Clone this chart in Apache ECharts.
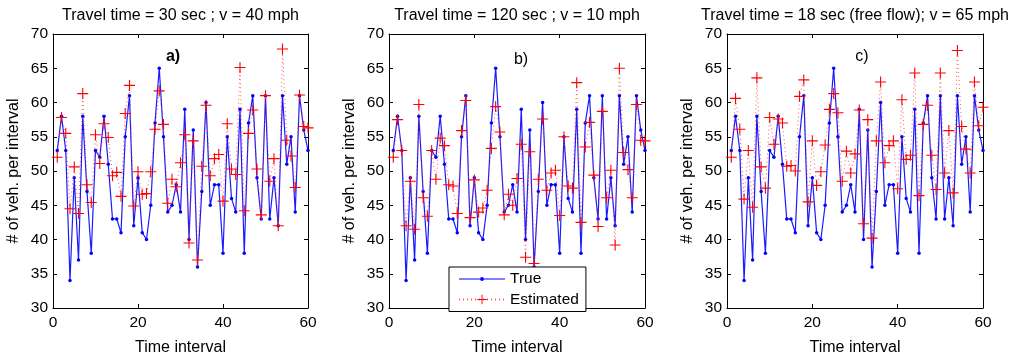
<!DOCTYPE html>
<html>
<head>
<meta charset="utf-8">
<script src="https://cdn.jsdelivr.net/npm/echarts@6/dist/echarts.min.js"></script>
<style>html,body{margin:0;padding:0;background:#fff}#c{width:1013px;height:361px}</style>
</head>
<body>
<div id="c"></div>
<script>
// ---- data ----
const panelTitles = ['Travel time = 30 sec ; v = 40 mph', 'Travel time = 120 sec ; v = 10 mph', 'Travel time = 18 sec (free flow); v = 65 mph'];
const panelTags = ['a)', 'b)', 'c)'];
const xTicks = [0, 20, 40, 60];
const yTicks = [30, 35, 40, 45, 50, 55, 60, 65, 70];
const intervals = Array.from({length: 60}, (_, i) => i + 1);
const trueCounts = [53,58,53,34,49,37,58,47,38,53,52,58,51,43,43,41,55,61,42,49,41,40,45,57,65,55,44,45,48,44,
                    59,40,56,36,47,60,45,48,48,38,55,46,44,59,38,57,61,49,43,61,43,49,42,61,51,55,44,61,56,53];
const estA = [52.0,57.8,55.5,44.5,50.6,43.8,61.3,48.0,45.4,55.3,51.1,56.9,54.9,49.3,49.8,46.3,58.4,62.5,44.9,49.9,
              46.6,46.7,49.9,56.1,61.7,56.8,45.3,48.8,47.7,51.2,55.3,39.5,54.4,37.0,50.7,59.6,49.3,51.8,52.4,45.6,
              56.9,50.3,49.5,65.1,44.2,55.5,58.9,50.3,43.6,61.0,48.5,51.8,42.0,67.8,54.5,52.2,47.6,61.1,56.5,56.3];
const estB = [52.0,57.5,53.0,42.0,48.5,41.5,59.7,46.1,43.4,53.0,48.8,54.8,53.7,48.0,47.8,43.8,55.9,60.3,43.2,48.7,
              44.0,44.6,47.2,53.3,59.4,55.7,43.6,46.6,45.0,48.9,53.9,37.4,52.8,36.5,48.8,57.6,47.2,49.7,50.1,43.5,
              55.0,47.8,47.5,62.9,42.5,53.5,57.1,49.4,41.9,58.7,46.1,50.1,39.2,65.0,52.7,50.2,46.1,59.7,54.5,54.4];
const estC = [52.0,60.6,56.1,45.9,53.0,44.7,63.6,50.6,47.5,57.8,53.9,57.6,57.0,50.7,50.8,50.0,60.9,63.3,45.5,54.4,
              47.9,49.9,53.8,59.0,61.3,58.5,48.5,52.9,49.7,52.5,58.9,42.3,57.5,40.2,54.4,63.0,51.2,53.7,54.4,47.4,
              60.4,51.7,52.3,64.3,46.4,56.8,59.6,52.3,47.3,64.3,49.7,55.9,46.8,67.6,56.5,53.2,49.7,63.0,56.6,59.3];
const estimates = [estA, estB, estC];

// ---- layout ----
const FONT = 'Liberation Sans, Arial, sans-serif';
const grids = [
  {left: 53, top: 34, width: 255, height: 283},
  {left: 389, top: 34, width: 256, height: 283},
  {left: 727, top: 34, width: 256, height: 283}
];
const tagPos = [[173, 57, 'bold'], [521, 60, 'normal'], [862, 57, 'normal']];
const plusPath = 'path://M0,4.5L10,4.5L10,5.5L0,5.5Z M4.5,0L5.5,0L5.5,10L4.5,10Z';
const trueLegendIcon = 'path://M0,0h0.01v0.01h-0.01Z M46,11h-0.01v-0.01h0.01Z M0,4.9H46V6.1H0Z M21.1,5.5A1.9,1.9 0 1,1 24.9,5.5A1.9,1.9 0 1,1 21.1,5.5Z';

const xAxes = [], yAxes = [], series = [], titles = [];
grids.forEach((g, k) => {
  const common = {
    min: xTicks[0], max: xTicks[xTicks.length - 1], interval: xTicks[1] - xTicks[0],
    axisLine: {show: true, onZero: false, lineStyle: {color: '#000', width: 1}},
    axisTick: {show: true, inside: true, length: 4, lineStyle: {color: '#000'}},
    splitLine: {show: false}
  };
  xAxes.push(Object.assign({}, common, {
    type: 'value', gridIndex: k, position: 'bottom',
    axisLabel: {color: '#000', fontSize: 15.5, fontFamily: FONT, margin: 7},
    name: 'Time interval', nameLocation: 'middle', nameGap: 32,
    nameTextStyle: {color: '#000', fontSize: 16, fontFamily: FONT}
  }));
  xAxes.push(Object.assign({}, common, {
    type: 'value', gridIndex: k, position: 'top', axisLabel: {show: false}
  }));
  const ycommon = {
    min: yTicks[0], max: yTicks[yTicks.length - 1], interval: yTicks[1] - yTicks[0],
    axisLine: {show: true, onZero: false, lineStyle: {color: '#000', width: 1}},
    axisTick: {show: true, inside: true, length: 4, lineStyle: {color: '#000'}},
    splitLine: {show: false}
  };
  yAxes.push(Object.assign({}, ycommon, {
    type: 'value', gridIndex: k, position: 'left',
    axisLabel: {color: '#000', fontSize: 15.5, fontFamily: FONT, margin: 5},
    name: '# of veh. per interval', nameLocation: 'middle', nameGap: 31,
    nameTextStyle: {color: '#000', fontSize: 16, fontFamily: FONT}
  }));
  yAxes.push(Object.assign({}, ycommon, {
    type: 'value', gridIndex: k, position: 'right', axisLabel: {show: false}
  }));
  series.push({
    name: 'True', type: 'line', xAxisIndex: 2 * k, yAxisIndex: 2 * k,
    data: intervals.map((x, i) => [x, trueCounts[i]]),
    symbol: 'circle', symbolSize: 3.5, showSymbol: true, showAllSymbol: true,
    lineStyle: {color: '#1a1aff', width: 1.2},
    itemStyle: {color: '#0000ff'},
    emphasis: {disabled: true}, animation: false, z: 2
  });
  series.push({
    name: 'Estimated', type: 'line', xAxisIndex: 2 * k, yAxisIndex: 2 * k,
    data: intervals.map((x, i) => [x, estimates[k][i]]),
    symbol: plusPath, symbolSize: 11, showSymbol: true, showAllSymbol: true,
    lineStyle: {color: '#ff3030', width: 1, type: [1, 3], opacity: 0.8},
    itemStyle: {color: '#ff0000'},
    emphasis: {disabled: true}, animation: false, z: 3
  });
  titles.push({
    text: panelTitles[k], left: g.left + g.width / 2, top: 8, textAlign: 'center', padding: 0,
    textStyle: {color: '#000', fontSize: 16, fontWeight: 'normal', fontFamily: FONT}
  });
  titles.push({
    text: panelTags[k], left: tagPos[k][0], top: tagPos[k][1] - 8, textAlign: 'center', padding: 0,
    textStyle: {color: '#000', fontSize: 16, fontWeight: tagPos[k][2], fontFamily: FONT}
  });
});

const chart = echarts.init(document.getElementById('c'), null, {renderer: 'canvas'});
chart.setOption({
  animation: false,
  backgroundColor: '#fff',
  title: titles,
  grid: grids,
  xAxis: xAxes,
  yAxis: yAxes,
  series: series,
  legend: {
    data: [{name: 'True', icon: trueLegendIcon}, {name: 'Estimated'}],
    left: 449, top: 267, orient: 'vertical',
    backgroundColor: '#fff', borderColor: '#000', borderWidth: 1,
    padding: [4, 7, 4, 9], itemGap: 4.5, itemWidth: 46, itemHeight: 12,
    itemStyle: {borderWidth: 0},
    textStyle: {color: '#000', fontSize: 15.5, fontFamily: FONT},
    selectedMode: false
  }
});
</script>
</body>
</html>
